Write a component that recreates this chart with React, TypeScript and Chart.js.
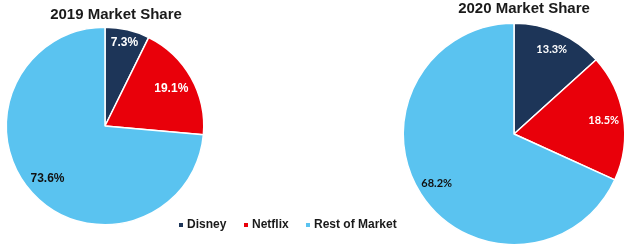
import React, { useEffect, useRef } from "react";
import { Chart, registerables } from "chart.js";

Chart.register(...registerables);

const categories = ["Disney", "Netflix", "Rest of Market"];
const share2019 = [7.3, 19.1, 73.6];
const share2020 = [13.3, 18.5, 68.2];
const chartTitles = ["2019 Market Share", "2020 Market Share"];

const sliceColors = ["#1D3558", "#E9000A", "#5AC3F0"];
const labelColors = ["#FFFFFF", "#FFFFFF", "#111111"];

type PieCfg = {
  data: number[];
  title: string;
  titleX: number;
  titleY: number;
  padding: { left: number; right: number; top: number; bottom: number };
  labelFrac: number[];
  labelFont: string;
  drawLegend: boolean;
};

const W = 630;
const H = 252;

function makeDecorPlugin(cfg: PieCfg) {
  return {
    id: "pieDecor",
    afterDatasetsDraw(chart: any) {
      const ctx = chart.ctx as CanvasRenderingContext2D;
      const meta = chart.getDatasetMeta(0);
      ctx.save();
      ctx.textAlign = "center";
      ctx.textBaseline = "middle";
      ctx.font = cfg.labelFont;
      meta.data.forEach((arc: any, i: number) => {
        const p = arc.getProps(["x", "y", "startAngle", "endAngle", "outerRadius"], true);
        const mid = (p.startAngle + p.endAngle) / 2;
        const r = p.outerRadius * cfg.labelFrac[i];
        const v = chart.data.datasets[0].data[i] as number;
        ctx.fillStyle = labelColors[i];
        ctx.fillText(v.toFixed(1) + "%", p.x + Math.cos(mid) * r, p.y + Math.sin(mid) * r);
      });
      // title
      ctx.font = "bold 15px 'Liberation Sans', Arial, sans-serif";
      ctx.fillStyle = "#1a1a1a";
      ctx.fillText(cfg.title, cfg.titleX, cfg.titleY);
      if (cfg.drawLegend) {
        ctx.font = "bold 12px 'Liberation Sans', Arial, sans-serif";
        ctx.textAlign = "left";
        const legendX = [179, 244, 306];
        const ly = 225;
        categories.forEach((c, i) => {
          ctx.fillStyle = sliceColors[i];
          ctx.fillRect(legendX[i], ly - 2, 4, 4);
          ctx.fillStyle = "#1a1a1a";
          ctx.fillText(c, legendX[i] + 8, ly);
        });
      }
      ctx.restore();
    },
  };
}

function PieCanvas({ cfg }: { cfg: PieCfg }) {
  const ref = useRef<HTMLCanvasElement | null>(null);
  useEffect(() => {
    if (!ref.current) return;
    const chart = new Chart(ref.current, {
      type: "pie",
      data: {
        labels: categories,
        datasets: [
          {
            data: cfg.data,
            backgroundColor: sliceColors,
            borderColor: "#FFFFFF",
            borderWidth: 1.5,
            hoverOffset: 0,
            offset: 0,
          },
        ],
      },
      options: {
        responsive: false,
        maintainAspectRatio: false,
        animation: false,
        events: [],
        layout: { padding: cfg.padding },
        plugins: {
          legend: { display: false },
          title: { display: false },
          tooltip: { enabled: false },
        },
      },
      plugins: [makeDecorPlugin(cfg)],
    });
    return () => chart.destroy();
  }, [cfg]);
  return (
    <canvas
      ref={ref}
      width={W}
      height={H}
      style={{ position: "absolute", left: 0, top: 0, width: W, height: H }}
    />
  );
}

const cfg2019: PieCfg = {
  data: share2019,
  title: chartTitles[0],
  titleX: 116,
  titleY: 15,
  padding: { left: 5.5, right: 425.5, top: 26.5, bottom: 26.5 },
  labelFrac: [0.87, 0.77, 0.79],
  labelFont: "bold 12px 'Liberation Sans', Arial, sans-serif",
  drawLegend: true,
};

const cfg2020: PieCfg = {
  data: share2020,
  title: chartTitles[1],
  titleX: 524,
  titleY: 9,
  padding: { left: 402.5, right: 4.5, top: 22.5, bottom: 6.5 },
  labelFrac: [0.84, 0.82, 0.83],
  labelFont: "bold 11px Lato, 'Open Sans', sans-serif",
  drawLegend: false,
};

export default function App() {
  return (
    <div
      style={{
        position: "absolute",
        left: 0,
        top: 0,
        width: W,
        height: H,
        background: "#FFFFFF",
        overflow: "hidden",
      }}
    >
      <PieCanvas cfg={cfg2019} />
      <PieCanvas cfg={cfg2020} />
    </div>
  );
}
